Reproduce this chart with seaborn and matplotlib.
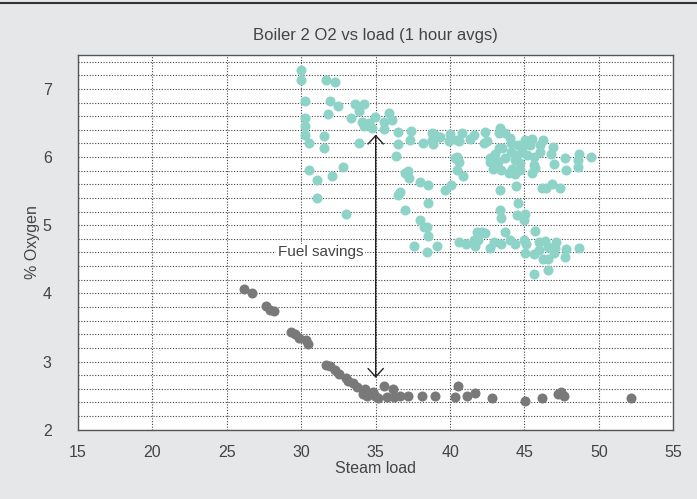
import numpy as np
import pandas as pd
import seaborn as sns
import matplotlib.pyplot as plt
from matplotlib.lines import Line2D
from matplotlib.ticker import MultipleLocator

# boiler running with current O2 settings (teal) and the improved trim curve (grey)
teal_x = [29.98, 29.98, 31.66, 32.24, 30.27, 31.95, 32.50, 33.63, 34.19, 33.90,
          30.27, 31.79, 33.34, 34.08, 34.52, 34.97, 34.23, 34.75, 35.53, 35.91,
          36.10, 35.56, 30.22, 30.27, 31.50, 30.51, 31.50, 33.85, 36.47, 37.39,
          37.33, 36.52, 38.15, 38.79, 38.94, 39.28, 38.79, 38.83, 40.02, 39.95,
          40.47, 36.39, 30.51, 31.09, 32.06, 32.80, 31.05, 36.99, 37.17, 37.21,
          37.95, 38.49, 36.61, 36.52, 38.54, 39.68, 40.06, 40.35, 40.47, 36.99,
          39.34, 40.58, 40.80, 41.58, 41.31, 42.37, 42.48, 42.26, 43.38, 43.26,
          43.67, 44.05, 44.10, 44.54, 45.06, 45.51, 46.22, 46.07, 45.35, 44.95,
          46.07, 46.90, 46.81, 47.70, 48.65, 48.60, 48.60, 49.48, 47.80, 46.99,
          45.62, 45.69, 45.53, 43.26, 43.49, 43.04, 42.71, 42.71, 43.20, 43.72,
          44.12, 44.50, 44.84, 45.17, 45.62, 44.39, 44.72, 44.17, 44.72, 43.94,
          44.39, 43.45, 42.86, 40.47, 40.58, 40.87, 43.38, 44.41, 46.18, 46.47,
          46.86, 47.37, 44.54, 43.38, 43.45, 44.50, 45.06, 44.99, 37.95, 38.22,
          38.45, 38.49, 37.60, 38.45, 39.12, 33.02, 40.62, 41.81, 42.15, 42.37,
          43.72, 45.73, 41.09, 41.58, 41.70, 41.88, 42.66, 42.93, 43.45, 44.05,
          44.39, 44.95, 45.13, 45.01, 45.62, 45.96, 46.41, 45.96, 46.56, 47.15,
          47.08, 46.96, 46.25, 46.59, 47.80, 47.70, 48.69, 46.59, 45.62]
teal_y = [7.28, 7.13, 7.13, 7.10, 6.83, 6.83, 6.75, 6.78, 6.78, 6.68,
          6.57, 6.63, 6.57, 6.52, 6.50, 6.59, 6.45, 6.43, 6.51, 6.65,
          6.55, 6.41, 6.45, 6.33, 6.31, 6.21, 6.14, 6.20, 6.37, 6.39,
          6.25, 6.19, 6.21, 6.36, 6.34, 6.29, 6.25, 6.19, 6.34, 6.23,
          6.25, 6.02, 5.81, 5.66, 5.72, 5.86, 5.40, 5.77, 5.79, 5.70,
          5.63, 5.59, 5.49, 5.45, 5.33, 5.51, 5.59, 5.98, 5.81, 5.22,
          6.30, 6.24, 6.35, 6.32, 6.26, 6.37, 6.24, 6.20, 6.42, 6.36,
          6.36, 6.28, 6.21, 6.18, 6.25, 6.26, 6.25, 6.18, 6.18, 6.18,
          6.08, 6.15, 6.04, 5.98, 6.05, 5.96, 5.86, 6.00, 5.81, 5.90,
          5.88, 5.84, 5.77, 6.13, 6.14, 6.05, 5.98, 5.93, 5.93, 5.98,
          6.08, 6.03, 6.08, 6.03, 6.00, 5.96, 5.91, 5.83, 5.81, 5.76,
          5.75, 5.81, 5.82, 6.00, 5.93, 5.72, 5.52, 5.58, 5.54, 5.55,
          5.61, 5.55, 5.33, 5.22, 5.11, 5.15, 5.17, 5.08, 5.07, 4.97,
          4.97, 4.84, 4.70, 4.60, 4.70, 5.16, 4.75, 4.90, 4.90, 4.88,
          4.90, 4.91, 4.72, 4.78, 4.69, 4.78, 4.66, 4.75, 4.72, 4.79,
          4.73, 4.78, 4.73, 4.59, 4.58, 4.75, 4.77, 4.63, 4.68, 4.75,
          4.66, 4.59, 4.51, 4.51, 4.65, 4.54, 4.66, 4.35, 4.29]

grey_x = [26.14, 26.68, 27.62, 27.91, 28.18, 29.32, 29.59, 29.86, 30.31, 30.47,
          31.68, 31.95, 32.28, 32.55, 33.02, 33.14, 33.47, 33.74, 34.30, 34.17,
          34.44, 34.84, 34.97, 35.17, 35.58, 35.76, 36.16, 36.20, 36.65, 37.19,
          38.13, 39.01, 40.31, 40.54, 41.14, 41.70, 42.84, 45.01, 46.20, 47.28,
          47.46, 47.66, 52.14]
grey_y = [4.06, 4.00, 3.81, 3.75, 3.74, 3.44, 3.40, 3.34, 3.31, 3.25,
          2.95, 2.93, 2.87, 2.82, 2.76, 2.72, 2.68, 2.62, 2.60, 2.53,
          2.49, 2.55, 2.49, 2.46, 2.64, 2.48, 2.59, 2.48, 2.49, 2.49,
          2.50, 2.49, 2.48, 2.64, 2.49, 2.54, 2.46, 2.42, 2.46, 2.52,
          2.55, 2.49, 2.46]

teal_df = pd.DataFrame({"load": teal_x, "o2": teal_y})
grey_df = pd.DataFrame({"load": grey_x, "o2": grey_y})

sns.set_theme(style="white")
plt.rcParams["font.family"] = ["Liberation Sans", "DejaVu Sans"]
text_col = "#444444"

fig = plt.figure(figsize=(6.97, 4.99), dpi=100, facecolor="#e6e7e8")
ax = fig.add_axes([0.112, 0.139, 0.854, 0.751])
ax.set_facecolor("white")

sns.scatterplot(data=teal_df, x="load", y="o2", ax=ax, color="#8dd3c7",
                s=52, linewidth=0, zorder=3)
sns.scatterplot(data=grey_df, x="load", y="o2", ax=ax, color="#797979",
                s=52, linewidth=0, zorder=3)

ax.set_xlim(15, 55)
ax.set_ylim(2, 7.5)
ax.xaxis.set_major_locator(MultipleLocator(5))
ax.yaxis.set_major_locator(MultipleLocator(1))
ax.yaxis.set_minor_locator(MultipleLocator(0.2))

ax.grid(True, which="major", axis="both", linestyle=(0, (1, 1.5)),
        color="#444444", linewidth=0.8)
ax.grid(True, which="minor", axis="y", linestyle=(0, (1, 1.5)),
        color="#444444", linewidth=0.8)
ax.set_axisbelow(True)

ax.tick_params(axis="both", which="major", direction="out", length=8, width=1,
               color="#555555", labelsize=11.5, labelcolor=text_col)
ax.tick_params(axis="y", which="major", pad=11)
ax.tick_params(axis="x", which="major", pad=3)
ax.tick_params(which="minor", length=0)
for sp in ax.spines.values():
    sp.set_color("#555555")
    sp.set_linewidth(1)

ax.set_xlabel("Steam load", fontsize=11.5, color=text_col, labelpad=1)
ax.set_ylabel("% Oxygen", fontsize=11.5, color=text_col, labelpad=2)
ax.set_title("Boiler 2 O2 vs load (1 hour avgs)", fontsize=12, color=text_col, pad=11)

ax.annotate("", xy=(35, 6.33), xytext=(35, 2.76),
            arrowprops=dict(arrowstyle="<->,head_length=0.6,head_width=0.55",
                            mutation_scale=10, color="#222222", lw=1,
                            shrinkA=0, shrinkB=0), zorder=5)
ax.text(31.3, 4.6, "Fuel savings", ha="center", va="center", fontsize=11,
        color=text_col, zorder=4,
        bbox=dict(facecolor="white", edgecolor="none", pad=1))

fig.add_artist(Line2D([0, 1], [0.994, 0.994], transform=fig.transFigure,
                      color="#333333", linewidth=1.5))

fig.savefig("out.png", dpi=100, facecolor=fig.get_facecolor())
